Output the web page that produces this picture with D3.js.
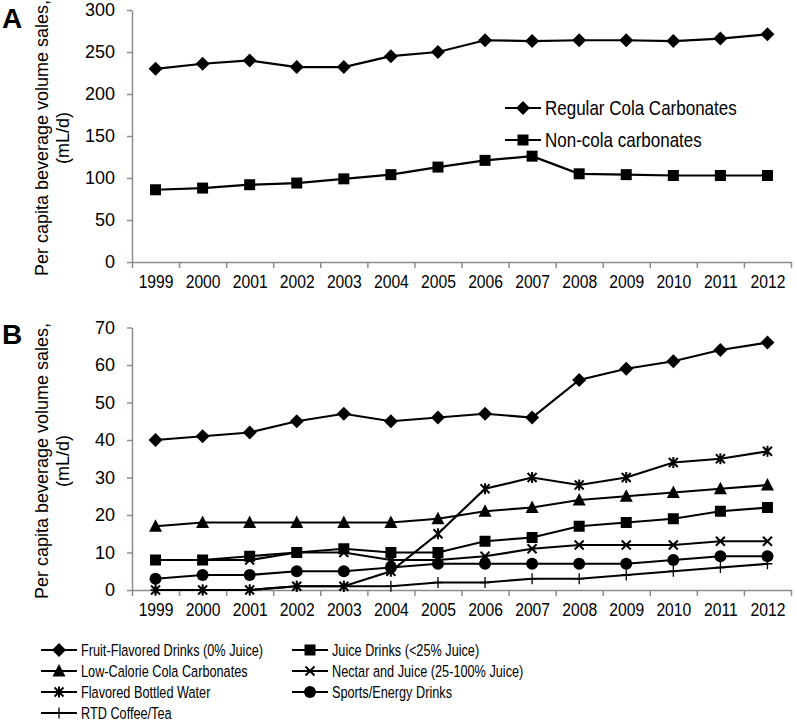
<!DOCTYPE html>
<html>
<head>
<meta charset="utf-8">
<script src="https://cdn.jsdelivr.net/npm/d3@7"></script>
<style>
  body { margin: 0; background: #fff; }
  svg { display: block; }
</style>
</head>
<body>
<div id="chart"></div>
<script>
// data
const years = [1999, 2000, 2001, 2002, 2003, 2004, 2005, 2006, 2007, 2008, 2009, 2010, 2011, 2012];

// panel A
const regularCola = [230, 236, 240, 232, 232, 245, 250, 264, 263, 264, 264, 263, 266, 271];
const nonCola     = [86, 88, 92, 94, 99, 104, 113, 121, 126, 105, 104, 103, 103, 103];
const yTicksA = [0, 50, 100, 150, 200, 250, 300];

// panel B
const fruitFlavored = [40, 41, 42, 45, 47, 45, 46, 47, 46, 56, 59, 61, 64, 66];
const juiceDrinks   = [8, 8, 9, 10, 11, 10, 10, 13, 14, 17, 18, 19, 21, 22];
const lowCalCola    = [17, 18, 18, 18, 18, 18, 19, 21, 22, 24, 25, 26, 27, 28];
const nectarJuice   = [8, 8, 8, 10, 10, 8, 8, 9, 11, 12, 12, 12, 13, 13];
const flavoredWater = [0, 0, 0, 1, 1, 5, 15, 27, 30, 28, 30, 34, 35, 37];
const sportsEnergy  = [3, 4, 4, 5, 5, 6, 7, 7, 7, 7, 7, 8, 9, 9];
const rtdCoffee     = [0, 0, 0, 1, 1, 1, 2, 2, 3, 3, 4, 5, 6, 7];
const yTicksB = [0, 10, 20, 30, 40, 50, 60, 70];

const seriesA = [
  { name: 'Regular Cola Carbonates', values: regularCola, marker: 'diamond' },
  { name: 'Non-cola carbonates', values: nonCola, marker: 'square' }
];
const seriesB = [
  { name: 'Fruit-Flavored Drinks (0% Juice)', values: fruitFlavored, marker: 'diamond' },
  { name: 'Juice Drinks (<25% Juice)', values: juiceDrinks, marker: 'square' },
  { name: 'Low-Calorie Cola Carbonates', values: lowCalCola, marker: 'triangle' },
  { name: 'Nectar and Juice (25-100% Juice)', values: nectarJuice, marker: 'times' },
  { name: 'Flavored Bottled Water', values: flavoredWater, marker: 'star' },
  { name: 'Sports/Energy Drinks', values: sportsEnergy, marker: 'circle' },
  { name: 'RTD Coffee/Tea', values: rtdCoffee, marker: 'plus' }
];

const W = 797, H = 724;
const axisColor = '#8c8c8c';
const font = '"Liberation Sans", Arial, sans-serif';

const svg = d3.select('#chart').append('svg')
  .attr('width', W)
  .attr('height', H);

const plotLeft = 132, plotRight = 791;

const x = d3.scalePoint()
  .domain(years)
  .range([plotLeft, plotRight])
  .padding(0.5);

// category boundaries for tick marks
const xBound = d3.scaleLinear()
  .domain([0, years.length])
  .range([plotLeft, plotRight]);

function markerPath(type) {
  switch (type) {
    case 'diamond': return 'M0,-7L7,0L0,7L-7,0Z';
    case 'square': return 'M-5.5,-5.5H5.5V5.5H-5.5Z';
    case 'triangle': return 'M0,-7L6.5,5.5L-6.5,5.5Z';
    case 'circle': return d3.symbol(d3.symbolCircle, Math.PI * 6 * 6)();
    case 'times': return 'M-4.5,-4.5L4.5,4.5M-4.5,4.5L4.5,-4.5';
    case 'star': return 'M-4.5,-4.5L4.5,4.5M-4.5,4.5L4.5,-4.5M0,-5.5L0,5.5';
    case 'plus': return 'M-5,0L5,0M0,-5.5L0,5.5';
  }
}
const strokeMarkers = ['times', 'star', 'plus'];

function drawMarker(g, type, cx, cy) {
  const isStroke = strokeMarkers.includes(type);
  g.append('path')
    .attr('d', markerPath(type))
    .attr('transform', `translate(${cx},${cy})`)
    .attr('fill', isStroke ? 'none' : '#000')
    .attr('stroke', isStroke ? '#000' : 'none')
    .attr('stroke-width', type === 'plus' ? 1.3 : 2);
}

function drawPanel(opts) {
  const { y, ticks, series, label, labelY, titleY } = opts;
  const g = svg.append('g');

  // y axis
  const yAxis = g.append('g')
    .attr('transform', `translate(${plotLeft},0)`)
    .call(d3.axisLeft(y).tickValues(ticks).tickSize(5).tickPadding(12).tickSizeOuter(0));
  yAxis.select('.domain').attr('stroke', axisColor).attr('stroke-width', 1.5);
  yAxis.selectAll('.tick line').attr('stroke', axisColor).attr('stroke-width', 1.5);
  yAxis.selectAll('.tick text')
    .style('font-family', font)
    .style('font-size', '18px')
    .attr('fill', '#000');

  // x axis: boundary ticks
  const xAxisTicks = g.append('g')
    .attr('transform', `translate(0,${y(0)})`)
    .call(d3.axisBottom(xBound).tickValues(d3.range(years.length + 1)).tickSize(6).tickFormat('').tickSizeOuter(0));
  xAxisTicks.select('.domain').attr('stroke', axisColor).attr('stroke-width', 1.5);
  xAxisTicks.selectAll('.tick line').attr('stroke', axisColor).attr('stroke-width', 1.5);

  // x labels at category centres
  const xAxisLabels = g.append('g')
    .attr('transform', `translate(0,${y(0)})`)
    .call(d3.axisBottom(x).tickSize(0).tickPadding(13));
  xAxisLabels.select('.domain').remove();
  xAxisLabels.selectAll('.tick text')
    .style('font-family', font)
    .style('font-size', '18px')
    .attr('transform', 'scale(0.87,1)')
    .attr('fill', '#000');

  // lines
  const line = d3.line()
    .x((d, i) => x(years[i]))
    .y(d => y(d));

  series.forEach(s => {
    g.append('path')
      .datum(s.values)
      .attr('fill', 'none')
      .attr('stroke', '#000')
      .attr('stroke-width', 2.2)
      .attr('d', line);
    const mg = g.append('g');
    s.values.forEach((v, i) => drawMarker(mg, s.marker, x(years[i]), y(v)));
  });

  // panel letter
  svg.append('text')
    .attr('x', 2)
    .attr('y', labelY)
    .style('font-family', font)
    .style('font-size', '28px')
    .style('font-weight', 'bold')
    .text(label);

  // y title (two lines)
  const title = svg.append('text')
    .attr('transform', `translate(48,${titleY}) rotate(-90)`)
    .attr('text-anchor', 'middle')
    .style('font-family', font)
    .style('font-size', '18px');
  title.append('tspan').attr('x', 0).attr('y', 0).text('Per capita beverage volume sales,');
  title.append('tspan').attr('x', 0).attr('y', 21).text('(mL/d)');
}

const yA = d3.scaleLinear().domain([0, 300]).range([262, 10]);
const yB = d3.scaleLinear().domain([0, 70]).range([590, 327.5]);

drawPanel({ y: yA, ticks: yTicksA, series: seriesA, label: 'A', labelY: 28, titleY: 138 });
drawPanel({ y: yB, ticks: yTicksB, series: seriesB, label: 'B', labelY: 344, titleY: 461 });

// legend helper, text condensed like a narrow face
function legendItem(g, s, lx, ly, lineLen, textSize, squeeze) {
  g.append('line')
    .attr('x1', lx).attr('x2', lx + lineLen)
    .attr('y1', ly).attr('y2', ly)
    .attr('stroke', '#000')
    .attr('stroke-width', 2.2);
  drawMarker(g, s.marker, lx + lineLen / 2, ly);
  g.append('text')
    .attr('transform', `translate(${lx + lineLen + 4},${ly}) scale(${squeeze},1)`)
    .attr('dy', '0.36em')
    .style('font-family', font)
    .style('font-size', textSize)
    .text(s.name);
}

// legend A
const legA = svg.append('g');
seriesA.forEach((s, i) => legendItem(legA, s, 505, 108 + i * 32, 36, '20px', 0.85));

// legend B: two columns, row-major
const legB = svg.append('g');
seriesB.forEach((s, i) => {
  const col = i % 2, row = Math.floor(i / 2);
  legendItem(legB, s, col === 0 ? 41 : 292, 650 + row * 21, 36, '16.5px', 0.77);
});
</script>
</body>
</html>
